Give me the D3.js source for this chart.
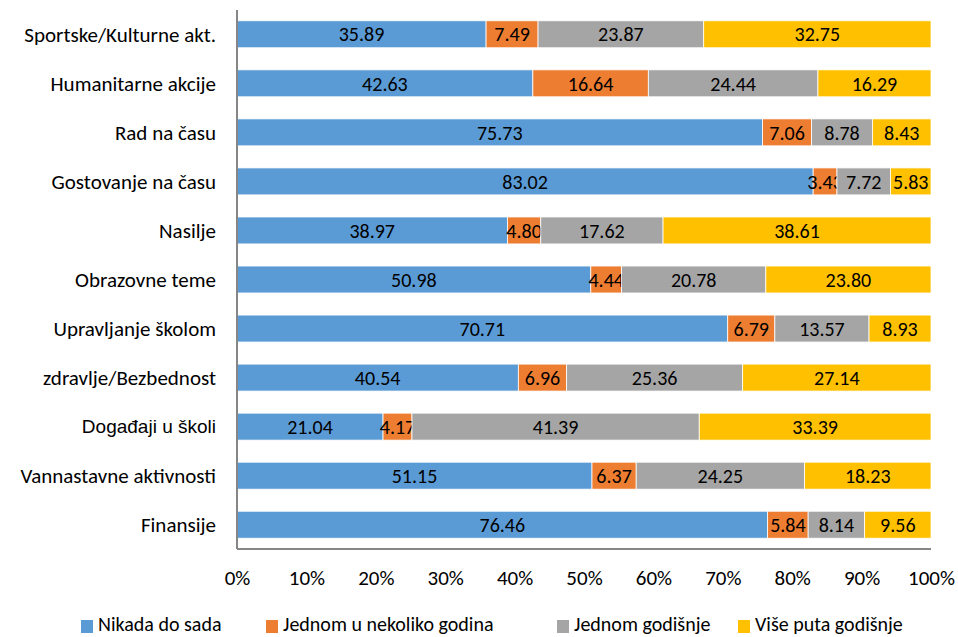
<!DOCTYPE html>
<html>
<head>
<meta charset="utf-8">
<script src="https://cdn.jsdelivr.net/npm/d3@7"></script>
<style>
  body { margin: 0; background: #fff; }
  svg text { font-family: Carlito, Lato, "Open Sans", sans-serif; fill: #000; }
</style>
</head>
<body>
<div id="chart"></div>
<script>
var categories = [
    "Sportske/Kulturne akt.", "Humanitarne akcije", "Rad na času", "Gostovanje na času",
    "Nasilje", "Obrazovne teme", "Upravljanje školom", "zdravlje/Bezbednost",
    "Događaji u školi", "Vannastavne aktivnosti", "Finansije"
];
var seriesNames = ["Nikada do sada", "Jednom u nekoliko godina", "Jednom godišnje", "Više puta godišnje"];
var nikada   = [35.89, 42.63, 75.73, 83.02, 38.97, 50.98, 70.71, 40.54, 21.04, 51.15, 76.46];
var nekoliko = [7.49, 16.64, 7.06, 3.43, 4.80, 4.44, 6.79, 6.96, 4.17, 6.37, 5.84];
var godisnje = [23.87, 24.44, 8.78, 7.72, 17.62, 20.78, 13.57, 25.36, 41.39, 24.25, 8.14];
var viseputa = [32.75, 16.29, 8.43, 5.83, 38.61, 23.80, 8.93, 27.14, 33.39, 18.23, 9.56];
var tickValues = [0, 0.1, 0.2, 0.3, 0.4, 0.5, 0.6, 0.7, 0.8, 0.9, 1];
var colors = ["#5B9BD5", "#ED7D31", "#A5A5A5", "#FFC000"];

var width = 958, height = 637;
var margin = {top: 10, right: 27, bottom: 88, left: 237};
var innerW = width - margin.left - margin.right;
var innerH = height - margin.top - margin.bottom;

var svg = d3.select("#chart").append("svg")
    .attr("width", width)
    .attr("height", height);

var g = svg.append("g")
    .attr("transform", "translate(" + margin.left + "," + margin.top + ")");

// build rows, normalised to 100%
var seriesVals = [nikada, nekoliko, godisnje, viseputa];
var rows = categories.map(function (c, i) {
    var row = {cat: c};
    var total = 0;
    seriesVals.forEach(function (s) { total += s[i]; });
    seriesNames.forEach(function (n, k) { row[n] = seriesVals[k][i] / total; row["raw" + k] = seriesVals[k][i]; });
    return row;
});

var stacked = d3.stack().keys(seriesNames)(rows);

var x = d3.scaleLinear().domain([0, 1]).range([0, innerW]);
var y = d3.scaleBand().domain(categories).range([0, innerH]).paddingInner(0.45).paddingOuter(0.22);

var layers = g.selectAll(".layer")
    .data(stacked)
    .enter().append("g")
    .attr("class", "layer")
    .attr("fill", function (d, i) { return colors[i]; });

layers.selectAll("rect")
    .data(function (d) { return d; })
    .enter().append("rect")
    .attr("x", function (d) { return x(d[0]); })
    .attr("y", function (d) { return y(d.data.cat); })
    .attr("width", function (d) { return x(d[1]) - x(d[0]); })
    .attr("height", y.bandwidth())
    .attr("stroke", "#fff")
    .attr("stroke-width", 0.8);

layers.selectAll("text")
    .data(function (d, i) { return d.map(function (p) { p.k = i; return p; }); })
    .enter().append("text")
    .attr("x", function (d) { return (x(d[0]) + x(d[1])) / 2; })
    .attr("y", function (d) { return y(d.data.cat) + y.bandwidth() / 2; })
    .attr("dy", "0.36em")
    .attr("text-anchor", "middle")
    .style("font-size", "20px")
    .text(function (d) { return d.data["raw" + d.k].toFixed(2); });

// axis lines
g.append("line")
    .attr("x1", 0).attr("x2", 0)
    .attr("y1", 0).attr("y2", innerH)
    .attr("stroke", "#868686").attr("stroke-width", 2);
g.append("line")
    .attr("x1", 0).attr("x2", innerW)
    .attr("y1", innerH).attr("y2", innerH)
    .attr("stroke", "#868686").attr("stroke-width", 2);

g.selectAll(".cat")
    .data(categories)
    .enter().append("text")
    .attr("class", "cat")
    .attr("x", -21)
    .attr("y", function (d) { return y(d) + y.bandwidth() / 2; })
    .attr("dy", "0.36em")
    .attr("text-anchor", "end")
    .style("font-size", function (d) { return d === "Događaji u školi" ? "19px" : "21px"; })
    .style("font-family", function (d) { return d === "Događaji u školi" ? "'Liberation Sans', Arial, sans-serif" : null; })
    .text(function (d) { return d; });

// x axis
var xAxis = g.append("g")
    .attr("transform", "translate(0," + innerH + ")")
    .call(d3.axisBottom(x).tickValues(tickValues).tickFormat(d3.format(".0%")).tickSize(0).tickPadding(21));
xAxis.select(".domain").remove();
xAxis.selectAll("text")
    .style("font-size", "21px")
    .style("font-family", "Carlito, Lato, 'Open Sans', sans-serif");

// legend
var legendX = [81, 266, 557, 738];
var legend = svg.selectAll(".legend")
    .data(seriesNames)
    .enter().append("g")
    .attr("class", "legend")
    .attr("transform", function (d, i) { return "translate(" + legendX[i] + "," + 631 + ")"; });
legend.append("rect")
    .attr("x", 0).attr("y", -11)
    .attr("width", 12).attr("height", 13)
    .attr("fill", function (d, i) { return colors[i]; });
legend.append("text")
    .attr("x", 17)
    .style("font-size", "20px")
    .text(function (d) { return d; });
</script>
</body>
</html>
